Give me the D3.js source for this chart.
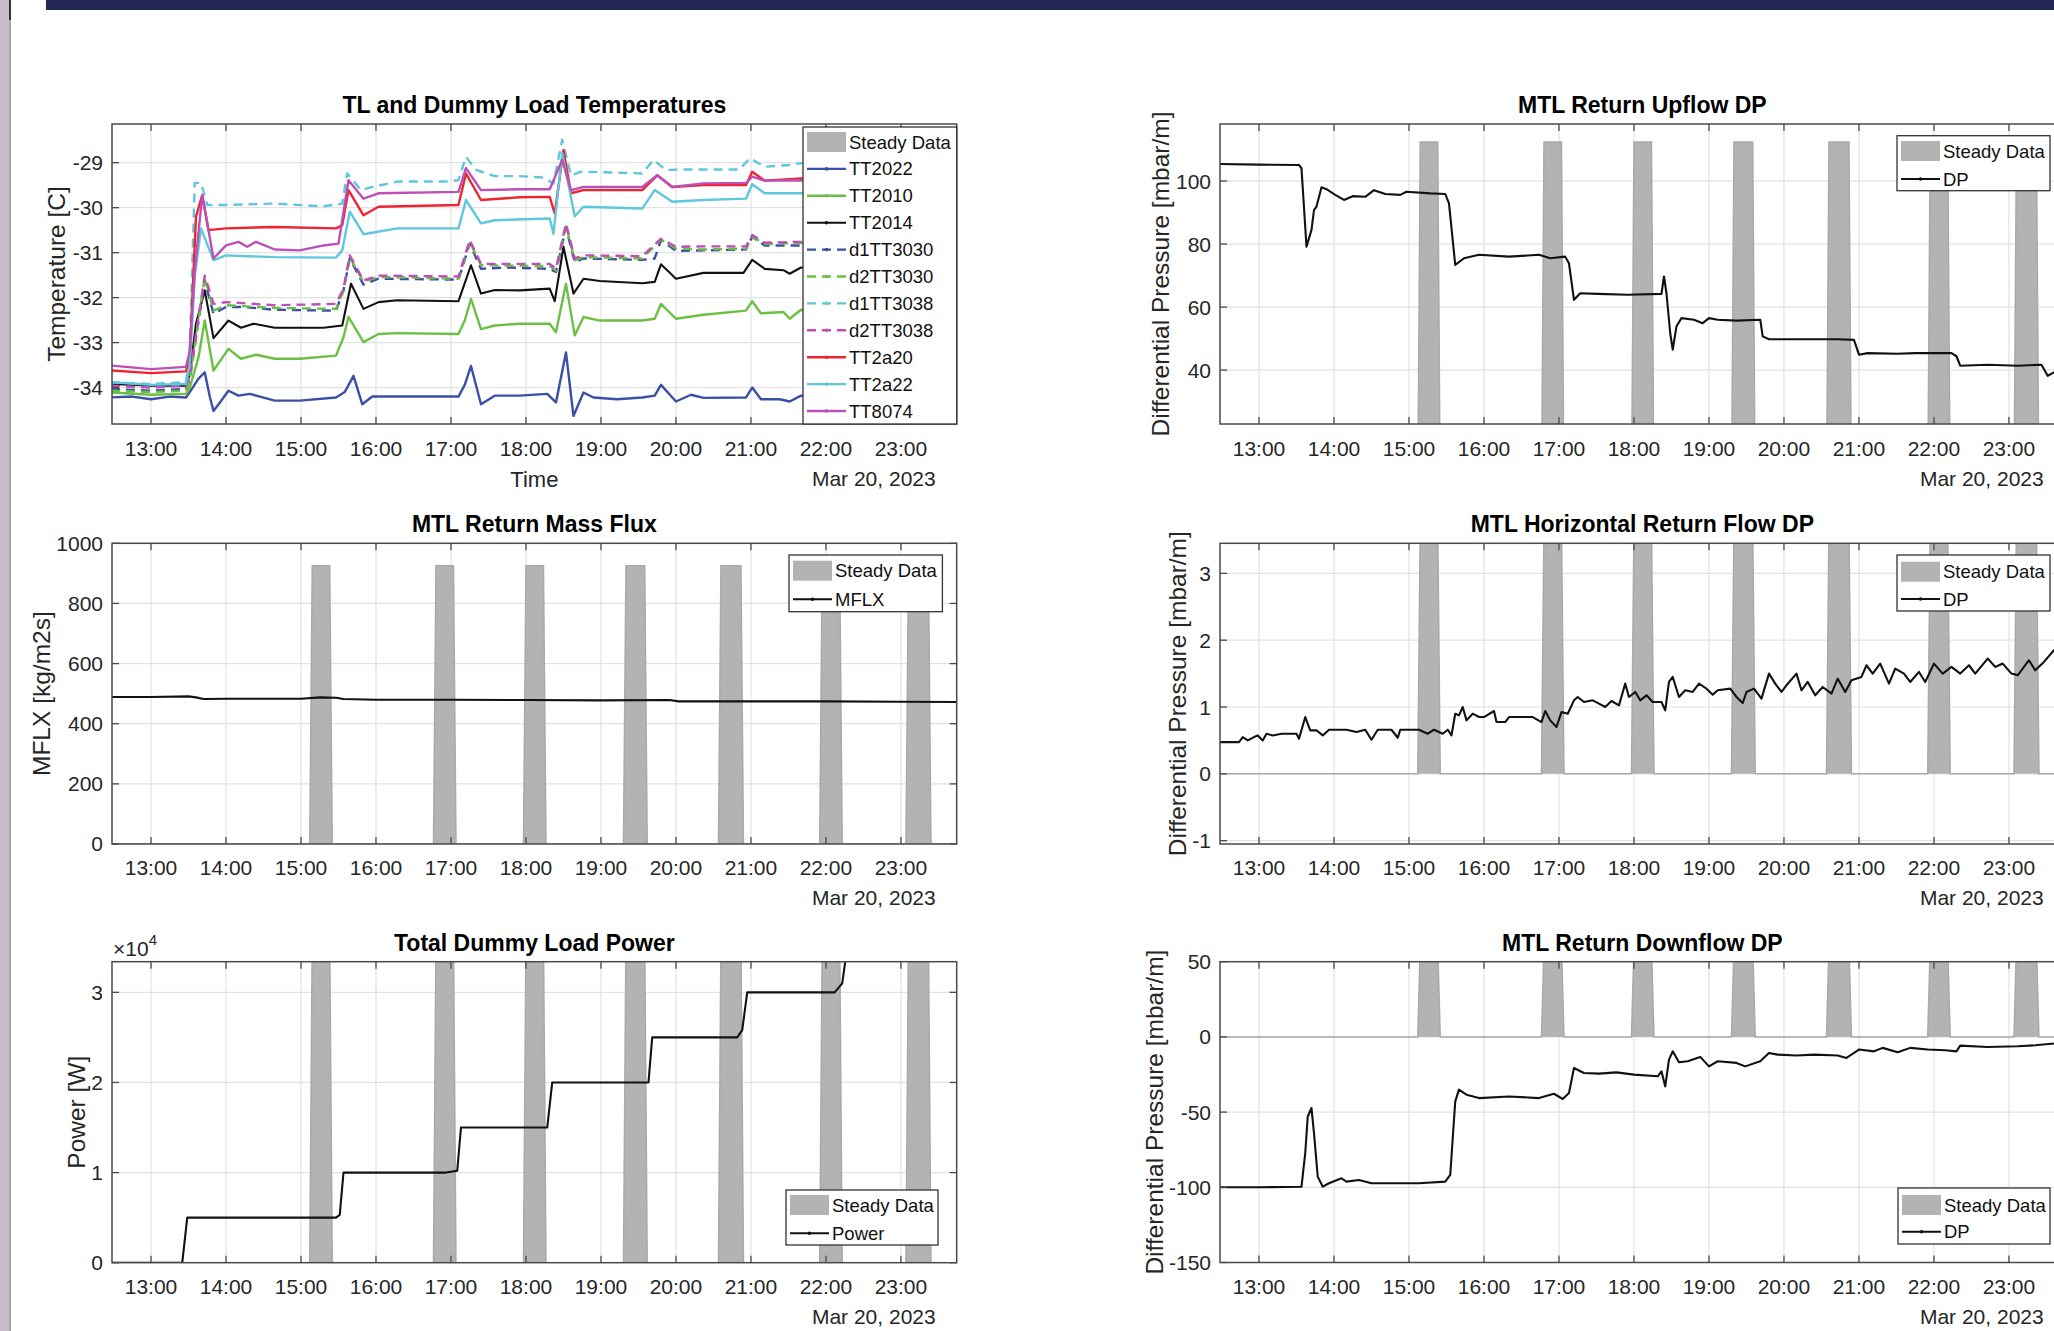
<!DOCTYPE html>
<html>
<head>
<meta charset="utf-8">
<script src="https://cdn.jsdelivr.net/npm/d3@7"></script>
<style>
  html, body { margin: 0; padding: 0; background: #fff; }
  svg { display: block; font-family: "Liberation Sans", Arial, Helvetica, sans-serif; }
</style>
</head>
<body>
<svg id="fig" width="2054" height="1331"></svg>
<script>
// ---------- time axis ----------
const hourTicks = ["13:00","14:00","15:00","16:00","17:00","18:00","19:00","20:00","21:00","22:00","23:00"];
const dateLabel = "Mar 20, 2023";

// steady-state windows (start / end)
const steadyStart = ["15:07","16:46","17:58","19:18","20:34","21:55","23:04"];
const steadyEnd   = ["15:25","17:04","18:16","19:37","20:54","22:13","23:24"];

// ---------- TL and dummy load temperatures [C] ----------
const tt2022 = [["12:28",-34.22],["12:45",-34.2],["13:00",-34.26],["13:15",-34.2],["13:28",-34.22],["13:31",-34.1],["13:38",-33.8],["13:43",-33.66],["13:47",-34.2],["13:50",-34.52],["13:56",-34.3],["14:02",-34.07],["14:10",-34.18],["14:19",-34.14],["14:39",-34.29],["14:59",-34.29],["15:28",-34.22],["15:35",-34.1],["15:42",-33.74],["15:49",-34.37],["15:57",-34.2],["16:17",-34.2],["17:06",-34.2],["17:11",-33.94],["17:16",-33.52],["17:24",-34.37],["17:35",-34.18],["17:55",-34.18],["18:17",-34.14],["18:24",-34.33],["18:32",-33.22],["18:38",-34.63],["18:46",-34.11],["18:54",-34.22],["19:13",-34.26],["19:33",-34.22],["19:43",-34.18],["19:48",-33.94],["20:00",-34.31],["20:12",-34.16],["20:22",-34.23],["20:56",-34.22],["21:01",-34.0],["21:08",-34.26],["21:23",-34.26],["21:31",-34.31],["21:40",-34.18],["21:46",-34.2]];
const tt2010 = [["12:28",-34.11],["13:00",-34.16],["13:28",-34.14],["13:31",-34.0],["13:38",-33.33],["13:43",-32.51],["13:50",-33.62],["14:02",-33.14],["14:12",-33.36],["14:24",-33.27],["14:39",-33.36],["14:59",-33.36],["15:28",-33.29],["15:34",-32.88],["15:38",-32.43],["15:50",-32.99],["16:02",-32.81],["16:17",-32.79],["17:06",-32.81],["17:11",-32.51],["17:16",-32.03],["17:24",-32.70],["17:35",-32.62],["17:55",-32.58],["18:19",-32.58],["18:24",-32.77],["18:32",-31.69],["18:39",-32.84],["18:46",-32.43],["18:59",-32.51],["19:33",-32.51],["19:43",-32.47],["19:48",-32.14],["20:00",-32.47],["20:22",-32.38],["20:56",-32.29],["21:01",-32.08],["21:08",-32.35],["21:26",-32.32],["21:31",-32.47],["21:40",-32.27],["21:46",-32.3]];
const tt2014 = [["12:28",-33.92],["13:00",-33.96],["13:28",-33.96],["13:31",-33.70],["13:36",-32.58],["13:43",-31.84],["13:50",-32.90],["14:02",-32.51],["14:12",-32.67],["14:22",-32.58],["14:39",-32.67],["15:18",-32.67],["15:33",-32.62],["15:40",-31.69],["15:50",-32.25],["16:02",-32.10],["16:17",-32.06],["17:06",-32.08],["17:16",-31.28],["17:24",-31.91],["17:35",-31.83],["17:55",-31.84],["18:19",-31.80],["18:23",-32.08],["18:30",-30.87],["18:38",-31.91],["18:46",-31.58],["18:59",-31.63],["19:33",-31.68],["19:43",-31.65],["19:48",-31.26],["20:00",-31.58],["20:22",-31.45],["20:54",-31.45],["21:01",-31.16],["21:11",-31.36],["21:26",-31.39],["21:31",-31.47],["21:40",-31.33],["21:46",-31.35]];
const d1tt3030 = [["12:28",-34.03],["13:00",-34.07],["13:28",-34.03],["13:31",-33.8],["13:43",-31.62],["13:50",-32.36],["14:00",-32.21],["14:14",-32.21],["14:39",-32.27],["15:28",-32.29],["15:34",-31.84],["15:39",-31.13],["15:50",-31.71],["16:02",-31.58],["17:06",-31.60],["17:15",-30.80],["17:24",-31.36],["17:45",-31.33],["18:19",-31.36],["18:24",-31.43],["18:32",-30.44],["18:39",-31.21],["18:46",-31.13],["19:33",-31.16],["19:43",-31.13],["19:48",-30.72],["20:00",-30.96],["20:22",-30.95],["20:56",-30.93],["21:01",-30.65],["21:11",-30.84],["21:40",-30.84],["21:46",-30.84]];
const d2tt3030 = [["12:28",-34.07],["13:00",-34.1],["13:28",-34.07],["13:31",-33.85],["13:43",-31.54],["13:50",-32.29],["14:00",-32.17],["14:39",-32.23],["15:28",-32.25],["15:34",-31.84],["15:39",-31.10],["15:50",-31.65],["16:02",-31.54],["17:06",-31.58],["17:15",-30.76],["17:24",-31.28],["18:19",-31.30],["18:24",-31.40],["18:32",-30.39],["18:39",-31.17],["18:46",-31.10],["19:33",-31.13],["19:48",-30.71],["20:00",-30.91],["20:22",-30.93],["20:56",-30.91],["21:01",-30.65],["21:11",-30.81],["21:40",-30.78],["21:46",-30.8]];
const d1tt3038 = [["12:28",-33.88],["13:00",-33.92],["13:28",-33.88],["13:31",-33.2],["13:35",-29.45],["13:40",-29.45],["13:45",-29.94],["14:00",-29.94],["14:39",-29.91],["15:18",-29.97],["15:33",-29.91],["15:37",-29.24],["15:48",-29.61],["15:57",-29.54],["16:17",-29.42],["16:56",-29.42],["17:06",-29.39],["17:12",-28.87],["17:20",-29.16],["17:35",-29.30],["17:55",-29.30],["18:14",-29.33],["18:22",-29.46],["18:29",-28.49],["18:36",-29.28],["18:44",-29.20],["19:13",-29.22],["19:33",-29.24],["19:42",-28.94],["19:52",-29.16],["20:12",-29.15],["20:51",-29.15],["20:59",-28.90],["21:11",-29.09],["21:31",-29.05],["21:40",-29.01],["21:46",-29.02]];
const d2tt3038 = [["12:28",-33.96],["13:00",-34.0],["13:28",-33.96],["13:31",-33.75],["13:43",-31.51],["13:50",-32.14],["14:00",-32.10],["14:39",-32.17],["15:28",-32.14],["15:34",-31.80],["15:39",-31.06],["15:50",-31.62],["16:02",-31.51],["17:06",-31.53],["17:15",-30.72],["17:24",-31.25],["18:19",-31.25],["18:24",-31.36],["18:32",-30.35],["18:39",-31.13],["18:46",-31.06],["19:33",-31.08],["19:48",-30.69],["20:00",-30.87],["20:22",-30.86],["20:56",-30.86],["21:01",-30.61],["21:11",-30.78],["21:40",-30.76],["21:46",-30.78]];
const tt2a20 = [["12:28",-33.62],["13:00",-33.68],["13:28",-33.64],["13:31",-33.3],["13:36",-30.20],["13:41",-29.72],["13:46",-30.50],["14:00",-30.46],["14:39",-30.43],["15:28",-30.46],["15:33",-30.39],["15:38",-29.61],["15:50",-30.17],["16:02",-29.98],["17:06",-29.94],["17:12",-29.24],["17:24",-29.83],["17:55",-29.77],["18:19",-29.76],["18:23",-30.13],["18:30",-28.72],["18:36",-29.68],["18:46",-29.61],["19:33",-29.61],["19:45",-29.28],["19:57",-29.54],["20:22",-29.50],["20:56",-29.50],["21:01",-29.20],["21:11",-29.40],["21:40",-29.35],["21:46",-29.36]];
const tt2a22 = [["12:28",-33.88],["13:00",-33.94],["13:28",-33.92],["13:31",-33.5],["13:35",-31.54],["13:40",-30.46],["13:50",-31.17],["14:00",-31.06],["14:39",-31.10],["15:28",-31.11],["15:33",-30.95],["15:39",-30.09],["15:50",-30.59],["16:17",-30.46],["17:06",-30.46],["17:12",-29.83],["17:24",-30.35],["17:35",-30.28],["18:19",-30.24],["18:22",-30.58],["18:29",-28.79],["18:39",-30.19],["18:46",-29.98],["19:33",-30.02],["19:43",-29.61],["19:57",-29.87],["20:22",-29.83],["20:56",-29.80],["21:01",-29.48],["21:11",-29.68],["21:40",-29.68],["21:46",-29.68]];
const tt8074 = [["12:28",-33.51],["13:00",-33.59],["13:28",-33.54],["13:31",-33.2],["13:35",-31.39],["13:41",-29.72],["13:50",-31.13],["14:00",-30.84],["14:10",-30.76],["14:17",-30.87],["14:24",-30.76],["14:39",-30.93],["14:59",-30.95],["15:18",-30.84],["15:30",-30.80],["15:38",-29.39],["15:50",-29.80],["16:02",-29.68],["17:06",-29.65],["17:12",-29.12],["17:24",-29.61],["17:55",-29.59],["18:19",-29.59],["18:29",-28.94],["18:36",-29.61],["18:46",-29.54],["19:33",-29.54],["19:45",-29.28],["19:57",-29.54],["20:22",-29.46],["20:56",-29.45],["21:01",-29.31],["21:11",-29.40],["21:40",-29.39],["21:46",-29.4]];

// ---------- MTL return upflow DP [mbar/m] ----------
const upflowDP = [["12:28",105.4],["13:00",105.2],["13:32",105.1],["13:34",104.0],["13:38",79.2],["13:42",84.5],["13:44",90.8],["13:46",91.9],["13:50",98.0],["13:54",97.4],["14:01",95.6],["14:08",94.0],["14:15",95.2],["14:25",95.0],["14:32",97.1],["14:41",95.9],["14:53",95.6],["14:58",96.6],["15:17",96.1],["15:29",95.9],["15:32",92.9],["15:37",73.4],["15:44",75.5],["15:56",76.6],["16:20",76.0],["16:44",76.6],["16:53",75.5],["17:05",76.0],["17:08",73.9],["17:12",62.3],["17:17",64.4],["17:31",64.2],["17:55",63.9],["18:22",64.2],["18:24",69.7],["18:26",64.4],["18:29",51.7],["18:31",46.5],["18:34",53.9],["18:38",56.5],["18:48",56.0],["18:55",54.9],["19:00",56.5],["19:07",56.0],["19:22",55.7],["19:41",56.0],["19:43",50.7],["19:48",49.8],["20:05",49.8],["20:43",49.8],["20:56",49.6],["21:00",44.9],["21:07",45.4],["21:31",45.2],["21:45",45.4],["22:14",45.4],["22:18",44.4],["22:21",41.4],["22:43",41.7],["23:07",41.4],["23:26",41.7],["23:31",38.2],["23:36",39.3],["23:44",39.5]];

// ---------- MTL return mass flux [kg/m2s] ----------
const massFlux = [["12:28",488.7],["13:00",488.7],["13:30",490.9],["13:36",487.6],["13:42",482.1],["14:00",483.2],["15:00",483.2],["15:15",487.6],["15:28",486.5],["15:34",482.1],["16:00",479.9],["17:00",479.9],["18:00",478.8],["19:00",477.7],["19:55",478.8],["20:02",474.3],["21:00",474.3],["22:00",474.3],["23:00",473.2],["23:44",472.1]];

// ---------- MTL horizontal return flow DP [mbar/m] ----------
const horizontalDP = [["12:28",0.475],["12:44",0.475],["12:47",0.55],["12:51",0.5],["12:56",0.55],["12:59",0.575],["13:03",0.5],["13:06",0.6],["13:11",0.575],["13:18",0.6],["13:30",0.6],["13:32",0.525],["13:37",0.85],["13:41",0.65],["13:46",0.65],["13:51",0.575],["13:56",0.66],["14:10",0.66],["14:18",0.625],["14:25",0.66],["14:30",0.51],["14:35",0.66],["14:46",0.66],["14:51",0.54],["14:53",0.66],["15:08",0.66],["15:15",0.6],["15:20",0.66],["15:27",0.6],["15:31",0.66],["15:34",0.575],["15:37",0.9],["15:40",0.875],["15:43",1.0],["15:46",0.8],["15:51",0.9],["15:56",0.85],["16:00",0.85],["16:08",0.94],["16:10",0.775],["16:17",0.775],["16:20",0.85],["16:39",0.85],["16:46",0.775],["16:49",0.94],["16:53",0.8],["16:58",0.7],["17:02",0.925],["17:07",0.9],["17:12",1.1],["17:15",1.15],["17:20",1.075],["17:27",1.1],["17:32",1.05],["17:37",1.0],["17:42",1.09],["17:48",1.025],["17:53",1.35],["17:56",1.15],["18:01",1.225],["18:05",1.1],["18:10",1.175],["18:15",1.075],["18:22",1.075],["18:25",0.95],["18:28",1.375],["18:31",1.45],["18:36",1.15],["18:41",1.25],["18:47",1.225],["18:52",1.35],["18:58",1.275],["19:03",1.185],["19:07",1.25],["19:17",1.275],["19:22",1.15],["19:27",1.06],["19:30",1.225],["19:36",1.275],["19:42",1.125],["19:48",1.5],["19:53",1.35],["19:58",1.225],["20:02",1.325],["20:10",1.5],["20:14",1.25],["20:19",1.375],["20:25",1.175],["20:31",1.3],["20:38",1.2],["20:43",1.425],["20:49",1.225],["20:54",1.4],["21:02",1.45],["21:06",1.625],["21:11",1.5],["21:17",1.65],["21:24",1.35],["21:29",1.575],["21:36",1.5],["21:41",1.375],["21:48",1.525],["21:53",1.375],["22:00",1.65],["22:07",1.5],["22:14",1.6],["22:21",1.5],["22:28",1.625],["22:33",1.5],["22:43",1.725],["22:49",1.6],["22:55",1.65],["23:02",1.5],["23:07",1.475],["23:12",1.6],["23:16",1.7],["23:21",1.55],["23:28",1.675],["23:36",1.85],["23:43",1.9]];

// ---------- total dummy load power [W] ----------
const dummyPower = [["12:28",0],["13:25",0],["13:29",5000],["15:28",5000],["15:31",5300],["15:34",10000],["16:56",10000],["17:05",10200],["17:08",15000],["18:17",15000],["18:21",20000],["19:38",20000],["19:41",25000],["20:49",25000],["20:53",25800],["20:57",30000],["22:07",30000],["22:13",31000],["22:17",35000]];

// ---------- MTL return downflow DP [mbar/m] ----------
const downflowDP = [["12:28",-100],["13:00",-100],["13:34",-99.6],["13:37",-77.3],["13:39",-52.9],["13:42",-47.3],["13:44",-64.0],["13:47",-92.9],["13:51",-99.6],["13:56",-97.3],["14:06",-94.0],["14:10",-96.2],["14:20",-95.1],["14:30",-97.3],["15:08",-97.3],["15:29",-96.2],["15:33",-91.8],["15:37",-42.9],["15:40",-35.1],["15:46",-38.4],["15:56",-40.7],["16:20",-39.6],["16:44",-40.7],["16:56",-37.8],["17:03",-41.3],["17:08",-37.3],["17:12",-20.7],["17:20",-24.0],["17:32",-24.4],["17:46",-23.6],["18:00",-25.1],["18:19",-26.2],["18:22",-22.9],["18:25",-32.9],["18:28",-15.1],["18:31",-9.6],["18:36",-16.9],["18:43",-16.2],["18:53",-13.3],["19:00",-19.6],["19:07",-16.2],["19:22",-17.3],["19:29",-19.6],["19:41",-16.2],["19:48",-10.7],["19:55",-11.8],["20:10",-12.4],["20:24",-11.8],["20:43",-12.4],["20:50",-14.0],["21:00",-8.4],["21:12",-9.6],["21:19",-7.3],["21:31",-10.2],["21:41",-7.3],["21:55",-8.4],["22:09",-8.9],["22:18",-9.6],["22:21",-5.8],["22:43",-6.7],["23:07",-6.2],["23:21",-5.6],["23:36",-4.4],["23:43",-3.6]];

// ---------- y-axis ticks ----------
const tempTicks  = [-34,-33,-32,-31,-30,-29];
const upTicks    = [40,60,80,100];
const mflxTicks  = [0,200,400,600,800,1000];
const horizTicks = [-1,0,1,2,3];
const powerTicks = [0,10000,20000,30000];
const downTicks  = [-150,-100,-50,0,50];

// ================= drawing =================
const at = s => { const [h, m] = s.split(":").map(Number); return new Date(2023, 2, 20, h, m); };
const tStart = new Date(2023, 2, 20, 12, 28, 48);
const tEnd   = new Date(2023, 2, 20, 23, 44, 36);
const PW = 844.7;
const x = d3.scaleTime().domain([tStart, tEnd]).range([0, PW]);

const svg = d3.select("#fig");
const INK = "#262626";

// page frame: left margin strip and top banner
svg.append("rect").attr("x", 0).attr("y", 0).attr("width", 9).attr("height", 1331).attr("fill", "#c4bcc6");
svg.append("line").attr("x1", 10).attr("x2", 10).attr("y1", 0).attr("y2", 1331).attr("stroke", "#8a8a8a").attr("stroke-width", 1.5);
svg.append("line").attr("x1", 10).attr("x2", 10).attr("y1", 0).attr("y2", 20).attr("stroke", "#333").attr("stroke-width", 2);
svg.append("rect").attr("x", 46).attr("y", 0).attr("width", 2054 - 46).attr("height", 10).attr("fill", "#232855");

function steadySeries(h) {
  const pts = [[tStart, 0]];
  const ramp = 2 * 60 * 1000;
  steadyStart.forEach((s, i) => {
    const a = at(s), b = at(steadyEnd[i]);
    pts.push([a, 0], [new Date(+a + ramp), h], [new Date(+b - ramp), h], [b, 0]);
  });
  pts.push([tEnd, 0]);
  return pts;
}

let clipId = 0;
function panel(cfg) {
  const H = cfg.bottom - cfg.top;
  const y = d3.scaleLinear().domain(cfg.yDomain).range([H, 0]);
  const g = svg.append("g").attr("transform", `translate(${cfg.left},${cfg.top})`);
  const id = "clip" + (clipId++);
  g.append("clipPath").attr("id", id).append("rect").attr("width", PW).attr("height", H);
  const plot = g.append("g").attr("clip-path", `url(#${id})`);

  // grid
  plot.selectAll(".gx").data(hourTicks).enter().append("line")
    .attr("x1", d => x(at(d))).attr("x2", d => x(at(d)))
    .attr("y1", 0).attr("y2", H).attr("stroke", "#e2e2e2").attr("stroke-width", 1.2);
  plot.selectAll(".gy").data(cfg.yTicks).enter().append("line")
    .attr("x1", 0).attr("x2", PW)
    .attr("y1", d => y(d)).attr("y2", d => y(d)).attr("stroke", "#e2e2e2").attr("stroke-width", 1.2);

  // steady windows
  if (cfg.band != null) {
    const sd = steadySeries(cfg.band);
    plot.append("path").datum(sd)
      .attr("d", d3.area().x(d => x(d[0])).y0(y(0)).y1(d => y(d[1])))
      .attr("fill", "#b3b3b3");
    plot.append("path").datum(sd)
      .attr("d", d3.line().x(d => x(d[0])).y(d => y(d[1])))
      .attr("fill", "none").attr("stroke", "#a9a9a9").attr("stroke-width", 1.5);
  }

  // data lines
  const line = d3.line().x(d => x(at(d[0]))).y(d => y(d[1]));
  cfg.series.forEach(s => {
    plot.append("path").datum(s.data).attr("d", line)
      .attr("fill", "none").attr("stroke", s.color)
      .attr("stroke-width", s.width || 2.4)
      .attr("stroke-linejoin", "round")
      .attr("stroke-dasharray", s.dash ? "9,6" : null);
  });

  // box
  g.append("rect").attr("width", PW).attr("height", H)
    .attr("fill", "none").attr("stroke", "#4a4a4a").attr("stroke-width", 1.5);

  // inward ticks on all sides
  const tk = g.append("g").attr("stroke", "#4a4a4a").attr("stroke-width", 1.3);
  hourTicks.forEach(d => {
    const px = x(at(d));
    tk.append("line").attr("x1", px).attr("x2", px).attr("y1", H).attr("y2", H - 7);
    tk.append("line").attr("x1", px).attr("x2", px).attr("y1", 0).attr("y2", 7);
  });
  cfg.yTicks.forEach(d => {
    const py = y(d);
    tk.append("line").attr("x1", 0).attr("x2", 7).attr("y1", py).attr("y2", py);
    tk.append("line").attr("x1", PW).attr("x2", PW - 7).attr("y1", py).attr("y2", py);
  });

  // tick labels
  g.selectAll(".xl").data(hourTicks).enter().append("text")
    .attr("x", d => x(at(d))).attr("y", H + 24)
    .attr("text-anchor", "middle").attr("dominant-baseline", "central")
    .attr("font-size", 21).attr("fill", INK).text(d => d);
  g.selectAll(".yl").data(cfg.yTicks).enter().append("text")
    .attr("x", -9).attr("y", d => y(d))
    .attr("text-anchor", "end").attr("dominant-baseline", "central")
    .attr("font-size", 21).attr("fill", INK).text(cfg.yFmt || (d => String(d)));

  // date stamp
  g.append("text").attr("x", PW - 21).attr("y", H + 54)
    .attr("text-anchor", "end").attr("dominant-baseline", "central")
    .attr("font-size", 21).attr("fill", INK).text(dateLabel);
  if (cfg.timeLabel) {
    g.append("text").attr("x", PW / 2).attr("y", H + 55)
      .attr("text-anchor", "middle").attr("dominant-baseline", "central")
      .attr("font-size", 22).attr("fill", INK).text("Time");
  }

  // title
  g.append("text").attr("x", PW / 2).attr("y", cfg.titleY - cfg.top)
    .attr("text-anchor", "middle").attr("dominant-baseline", "central")
    .attr("font-size", 23).attr("font-weight", "bold").attr("fill", "#000").text(cfg.title);

  // y label
  g.append("text")
    .attr("transform", `translate(${cfg.ylabelX - cfg.left},${H / 2}) rotate(-90)`)
    .attr("text-anchor", "middle").attr("dominant-baseline", "central")
    .attr("font-size", 24.5).attr("fill", INK).text(cfg.ylabel);

  if (cfg.exponent) {
    const e = g.append("text").attr("x", 1).attr("y", -14)
      .attr("dominant-baseline", "central").attr("fill", INK);
    e.append("tspan").attr("font-size", 21).text("×10");
    e.append("tspan").attr("font-size", 15).attr("dy", -9).text(cfg.exponent);
  }

  // legend
  const L = cfg.legend;
  const lg = svg.append("g");
  lg.append("rect").attr("x", L.x).attr("y", L.y).attr("width", L.w).attr("height", L.h)
    .attr("fill", "#fff").attr("stroke", "#333").attr("stroke-width", 1.3);
  const entries = [{ name: "Steady Data", patch: true }].concat(cfg.series);
  entries.forEach((en, i) => {
    const cy = L.row0 + i * L.step;
    if (en.patch) {
      lg.append("rect").attr("x", L.x + 4).attr("y", cy - 10).attr("width", 39).attr("height", 20)
        .attr("fill", "#b3b3b3");
    } else {
      lg.append("line").attr("x1", L.x + 4).attr("x2", L.x + 43).attr("y1", cy).attr("y2", cy)
        .attr("stroke", en.color).attr("stroke-width", en.width || 2.4)
        .attr("stroke-dasharray", en.dash ? "9,6" : null);
      lg.append("circle").attr("cx", L.x + 23.5).attr("cy", cy).attr("r", 1.8).attr("fill", en.color);
    }
    lg.append("text").attr("x", L.x + 46).attr("y", cy)
      .attr("dominant-baseline", "central").attr("font-size", 18.5).attr("fill", "#111").text(en.name);
  });
}

const BLUE = "#3b4fa6", GREEN = "#6bbf44", BLACK = "#111111", CYAN = "#5ec7dc", MAG = "#bd4fb6", RED = "#ee2530";

panel({
  left: 112, top: 124, bottom: 424, yDomain: [-34.81, -28.14], yTicks: tempTicks,
  title: "TL and Dummy Load Temperatures", titleY: 105, ylabel: "Temperature [C]", ylabelX: 56,
  timeLabel: true, band: null,
  series: [
    { name: "TT2022", data: tt2022, color: BLUE },
    { name: "TT2010", data: tt2010, color: GREEN },
    { name: "TT2014", data: tt2014, color: BLACK, width: 2.1 },
    { name: "d1TT3030", data: d1tt3030, color: BLUE, dash: true },
    { name: "d2TT3030", data: d2tt3030, color: GREEN, dash: true },
    { name: "d1TT3038", data: d1tt3038, color: CYAN, dash: true },
    { name: "d2TT3038", data: d2tt3038, color: MAG, dash: true },
    { name: "TT2a20", data: tt2a20, color: RED },
    { name: "TT2a22", data: tt2a22, color: CYAN },
    { name: "TT8074", data: tt8074, color: MAG }
  ],
  legend: { x: 803, y: 127, w: 153.7, h: 297, row0: 142, step: 26.9 }
});

panel({
  left: 1220, top: 124, bottom: 424, yDomain: [22.9, 118.1], yTicks: upTicks,
  title: "MTL Return Upflow DP", titleY: 105, ylabel: "Differential Pressure [mbar/m]", ylabelX: 1160,
  band: 112.4,
  series: [{ name: "DP", data: upflowDP, color: BLACK, width: 2.1 }],
  legend: { x: 1897, y: 135.7, w: 153, h: 55, row0: 151, step: 28 }
});

panel({
  left: 112, top: 543.3, bottom: 844, yDomain: [0, 1000], yTicks: mflxTicks,
  title: "MTL Return Mass Flux", titleY: 524, ylabel: "MFLX [kg/m2s]", ylabelX: 41,
  band: 925,
  series: [{ name: "MFLX", data: massFlux, color: BLACK, width: 2.1 }],
  legend: { x: 789, y: 555, w: 153.4, h: 56.7, row0: 570.7, step: 28.6 }
});

panel({
  left: 1220, top: 543.3, bottom: 844, yDomain: [-1.05, 3.45], yTicks: horizTicks,
  title: "MTL Horizontal Return Flow DP", titleY: 524, ylabel: "Differential Pressure [mbar/m]", ylabelX: 1177,
  band: 3.7,
  series: [{ name: "DP", data: horizontalDP, color: BLACK, width: 2.1 }],
  legend: { x: 1897, y: 555, w: 153, h: 56, row0: 571.7, step: 27.3 }
});

panel({
  left: 112, top: 961.7, bottom: 1262.7, yDomain: [0, 33400], yTicks: powerTicks,
  yFmt: d => String(d / 10000), exponent: "4",
  title: "Total Dummy Load Power", titleY: 943, ylabel: "Power [W]", ylabelX: 76,
  band: 36000,
  series: [{ name: "Power", data: dummyPower, color: BLACK, width: 2.1 }],
  legend: { x: 786, y: 1190, w: 152, h: 55, row0: 1205, step: 28.3 }
});

panel({
  left: 1220, top: 961.7, bottom: 1262.5, yDomain: [-150, 50], yTicks: downTicks,
  title: "MTL Return Downflow DP", titleY: 943, ylabel: "Differential Pressure [mbar/m]", ylabelX: 1154,
  band: 60,
  series: [{ name: "DP", data: downflowDP, color: BLACK, width: 2.1 }],
  legend: { x: 1898, y: 1188, w: 152, h: 56, row0: 1205, step: 26.7 }
});
</script>
</body>
</html>
